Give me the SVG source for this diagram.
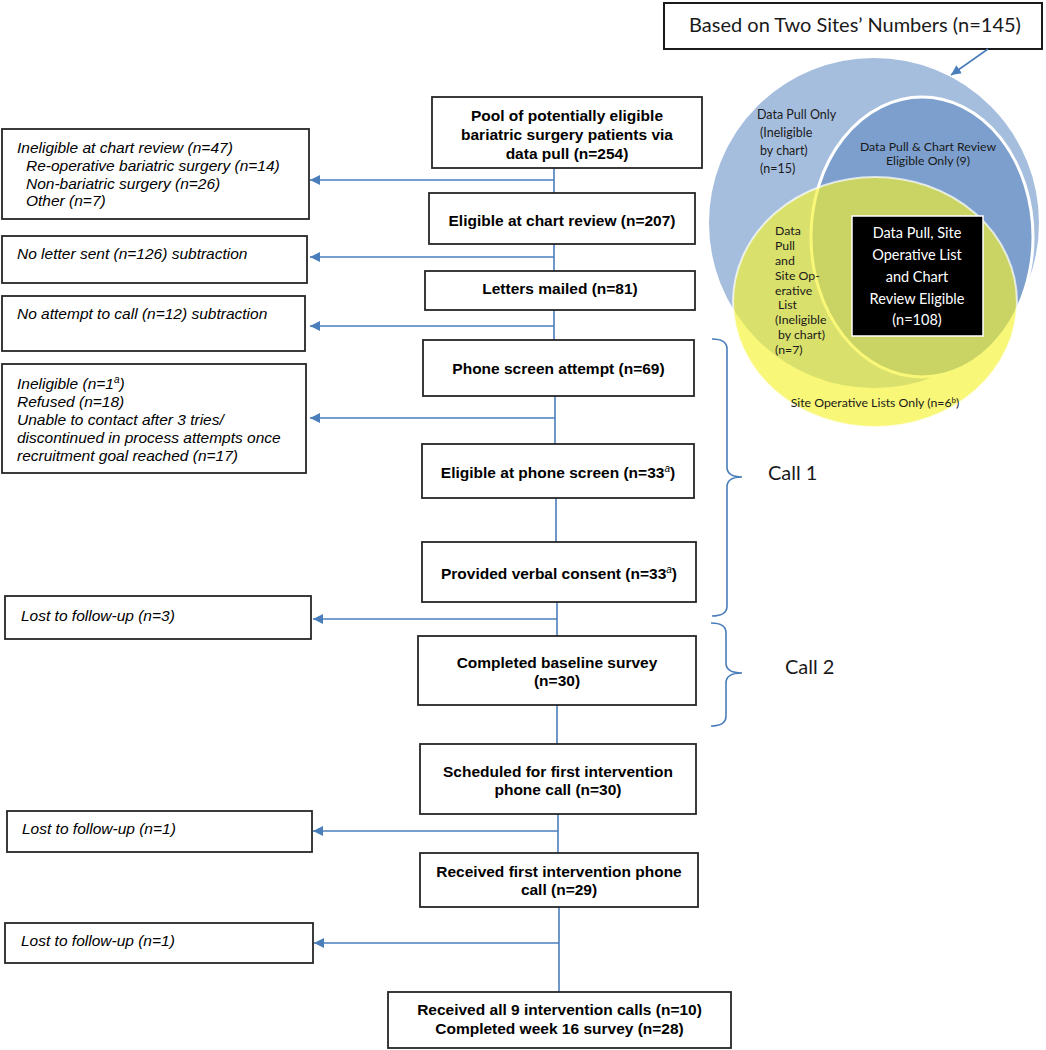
<svg xmlns="http://www.w3.org/2000/svg" width="1046" height="1050" viewBox="0 0 1046 1050">
<defs>
<marker id="ah" viewBox="0 0 10 10" refX="10" refY="5" markerWidth="10" markerHeight="10" markerUnits="userSpaceOnUse" orient="auto">
<path d="M0,0 L10,5 L0,10 z" fill="#4a7ebb"/>
</marker>
<style>
.box{fill:#fff;stroke:#262626;stroke-width:1.8}
.b{font-family:"Liberation Sans",Arial,sans-serif;font-size:15.5px;font-weight:bold;fill:#000;text-anchor:middle}
.i{font-family:"Liberation Sans",Arial,sans-serif;font-size:15.5px;font-style:italic;fill:#000}
.c{font-family:Lato,"Open Sans",sans-serif;fill:#1a1a1a}
.ln{stroke:#4a7ebb;stroke-width:1.6;fill:none}
</style>
</defs>
<rect width="1046" height="1050" fill="#fff"/>

<!-- Venn -->
<g id="venn">
<circle cx="874" cy="223" r="166" fill="#a6bede" stroke="#ffffff" stroke-width="2"/>
<ellipse cx="922" cy="237" rx="111" ry="140" fill="#7c9fcd" stroke="#ffffff" stroke-width="3"/>
<ellipse cx="875" cy="302" rx="142" ry="125" fill="#f5f22a" fill-opacity="0.64" stroke="#ffffff" stroke-opacity="0.7" stroke-width="2"/>
<rect x="852" y="216" width="131" height="120" fill="#000" stroke="#ffffff" stroke-width="1.5"/>
<g class="c" font-size="14.5" fill="#fff" text-anchor="middle">
<text x="917" y="238" fill="#fff">Data Pull, Site</text>
<text x="917" y="260" fill="#fff">Operative List</text>
<text x="917" y="282" fill="#fff">and Chart</text>
<text x="917" y="304" fill="#fff">Review Eligible</text>
<text x="917" y="325" fill="#fff">(n=108)</text>
</g>
<g class="c" font-size="12.5">
<text x="757" y="119">Data Pull Only</text>
<text x="760" y="137">(Ineligible</text>
<text x="760" y="155">by chart)</text>
<text x="760" y="173">(n=15)</text>
</g>
<g class="c" font-size="12.3" text-anchor="middle">
<text x="928" y="151">Data Pull &amp; Chart Review</text>
<text x="928" y="165">Eligible Only (9)</text>
</g>
<g class="c" font-size="12.3">
<text x="775" y="235">Data</text>
<text x="775" y="250">Pull</text>
<text x="775" y="265">and</text>
<text x="775" y="280">Site Op-</text>
<text x="775" y="295">erative</text>
<text x="778" y="309">List</text>
<text x="775" y="324">(Ineligible</text>
<text x="778" y="339">by chart)</text>
<text x="775" y="354">(n=7)</text>
</g>
<text class="c" font-size="12.3" x="875" y="407" text-anchor="middle">Site Operative Lists Only (n=6<tspan font-size="8" dy="-4">b</tspan><tspan dy="4">)</tspan></text>
</g>

<g id="sites">
<rect x="664" y="3" width="378" height="46" fill="#fff" stroke="#1a1a1a" stroke-width="2"/>
<text class="c" font-size="20" x="855" y="32" text-anchor="middle" fill="#000">Based on Two Sites’ Numbers (n=145)</text>
</g>

<!-- Connectors -->
<g id="connectors">
<line class="ln" x1="988" y1="49" x2="951" y2="75" marker-end="url(#ah)"/>
<line class="ln" x1="554" y1="168" x2="554" y2="193"/>
<line class="ln" x1="554" y1="180" x2="310" y2="180" marker-end="url(#ah)"/>
<line class="ln" x1="554" y1="244" x2="554" y2="271"/>
<line class="ln" x1="554" y1="257" x2="310" y2="257" marker-end="url(#ah)"/>
<line class="ln" x1="554" y1="310" x2="554" y2="340"/>
<line class="ln" x1="554" y1="326" x2="310" y2="326" marker-end="url(#ah)"/>
<line class="ln" x1="555" y1="396" x2="555" y2="444"/>
<line class="ln" x1="555" y1="418" x2="310" y2="418" marker-end="url(#ah)"/>
<line class="ln" x1="556" y1="498" x2="556" y2="542"/>
<line class="ln" x1="557" y1="602" x2="557" y2="636"/>
<line class="ln" x1="557" y1="619" x2="313" y2="619" marker-end="url(#ah)"/>
<line class="ln" x1="557" y1="705" x2="557" y2="744"/>
<line class="ln" x1="558" y1="814" x2="558" y2="853"/>
<line class="ln" x1="558" y1="831" x2="313" y2="831" marker-end="url(#ah)"/>
<line class="ln" x1="559" y1="907" x2="559" y2="992"/>
<line class="ln" x1="559" y1="943" x2="314" y2="943" marker-end="url(#ah)"/>
<path class="ln" d="M712,339 Q727,339 727,349 L727,467 Q727,477 742,477 Q727,477 727,487 L727,606 Q727,616 712,616"/>
<path class="ln" d="M711,623 Q726,623 726,633 L726,663 Q726,673 742,673 Q726,673 726,683 L726,716 Q726,726 711,726"/>
</g>

<text class="c" font-size="20" x="768" y="480" fill="#000">Call 1</text>
<text class="c" font-size="20" x="785" y="674" fill="#000">Call 2</text>

<!-- Main flow nodes -->
<g id="n1"><rect class="box" x="432" y="97" width="270" height="71"/>
<text class="b" x="567" y="120.5">Pool of potentially eligible</text>
<text class="b" x="567" y="139.5">bariatric surgery patients via</text>
<text class="b" x="567" y="158.5">data pull (n=254)</text></g>
<g id="n2"><rect class="box" x="429" y="193" width="266" height="51"/>
<text class="b" x="562" y="225.5">Eligible at chart review (n=207)</text></g>
<g id="n3"><rect class="box" x="425" y="271" width="270" height="39"/>
<text class="b" x="560" y="293.5">Letters mailed (n=81)</text></g>
<g id="n4"><rect class="box" x="423" y="340" width="271" height="56"/>
<text class="b" x="558.5" y="373.5">Phone screen attempt (n=69)</text></g>
<g id="n5"><rect class="box" x="422" y="444" width="272" height="54"/>
<text class="b" x="558" y="477.5">Eligible at phone screen (n=33<tspan font-size="10" font-style="italic" font-weight="normal" dy="-6">a</tspan><tspan dy="6">)</tspan></text></g>
<g id="n6"><rect class="box" x="422" y="542" width="274" height="60"/>
<text class="b" x="559" y="578.5">Provided verbal consent (n=33<tspan font-size="10" font-style="italic" font-weight="normal" dy="-6">a</tspan><tspan dy="6">)</tspan></text></g>
<g id="n7"><rect class="box" x="418" y="636" width="278" height="69"/>
<text class="b" x="557" y="667.5">Completed baseline survey</text>
<text class="b" x="557" y="685.5">(n=30)</text></g>
<g id="n8"><rect class="box" x="420" y="744" width="276" height="70"/>
<text class="b" x="558" y="776.5">Scheduled for first intervention</text>
<text class="b" x="558" y="794.5">phone call (n=30)</text></g>
<g id="n9"><rect class="box" x="420" y="853" width="278" height="54"/>
<text class="b" x="559" y="876.5">Received first intervention phone</text>
<text class="b" x="559" y="894.5">call (n=29)</text></g>
<g id="n10"><rect class="box" x="388" y="992" width="343" height="56"/>
<text class="b" x="559.5" y="1014.5">Received all 9 intervention calls (n=10)</text>
<text class="b" x="559.5" y="1033.5">Completed week 16 survey (n=28)</text></g>

<!-- Exclusion boxes -->
<g id="x1"><rect class="box" x="2" y="129" width="307" height="90"/>
<text class="i" x="17" y="152.5">Ineligible at chart review (n=47)</text>
<text class="i" x="26" y="170.5">Re-operative bariatric surgery (n=14)</text>
<text class="i" x="26" y="188.5">Non-bariatric surgery (n=26)</text>
<text class="i" x="26" y="205.5">Other (n=7)</text></g>
<g id="x2"><rect class="box" x="2" y="236" width="305" height="47"/>
<text class="i" x="17" y="258.5">No letter sent (n=126) subtraction</text></g>
<g id="x3"><rect class="box" x="2" y="296" width="303" height="55"/>
<text class="i" x="17" y="318.5">No attempt to call (n=12) subtraction</text></g>
<g id="x4"><rect class="box" x="2" y="364" width="304" height="109"/>
<text class="i" x="17" y="388.5">Ineligible (n=1<tspan font-size="10" dy="-6">a</tspan><tspan dy="6">)</tspan></text>
<text class="i" x="17" y="406.5">Refused (n=18)</text>
<text class="i" x="17" y="424.5">Unable to contact after 3 tries/</text>
<text class="i" x="17" y="442.5">discontinued in process attempts once</text>
<text class="i" x="17" y="460.5">recruitment goal reached (n=17)</text></g>
<g id="x5"><rect class="box" x="5" y="596" width="306" height="43"/>
<text class="i" x="21" y="620.5">Lost to follow-up (n=3)</text></g>
<g id="x6"><rect class="box" x="7" y="811" width="305" height="41"/>
<text class="i" x="22" y="833.5">Lost to follow-up (n=1)</text></g>
<g id="x7"><rect class="box" x="5" y="923" width="308" height="40"/>
<text class="i" x="21" y="945.5">Lost to follow-up (n=1)</text></g>
</svg>
